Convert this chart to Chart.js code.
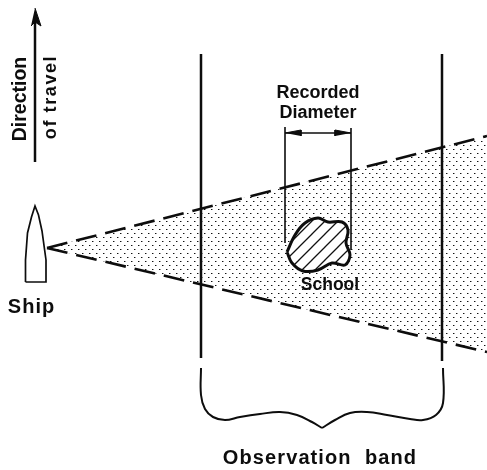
<!DOCTYPE html>
<html>
<head>
<meta charset="utf-8">
<style>html,body{margin:0;padding:0;background:#fff}canvas{display:block}</style>
<script src="https://cdn.jsdelivr.net/npm/chart.js@4"></script>
</head>
<body>
<canvas id="c" width="487" height="470"></canvas>
<script>
// Diagram geometry, in data units of the x (0-487) and y (0-470) scales
const wedgeArea = [[47,248],[487,136],[487,352]];
const wedgeTop = [[47,248],[487,136]];
const wedgeBottom = [[47,248],[487,352]];
const bandLeft = [[201,54],[201,358]];
const bandRight = [[442,54],[442,361]];
const braceLeft = [[201,368],[201,395],[205,409],[213,417],[225,420],[240,417],[260,414],[280,412],[297,415],[312,422],[322,428]];
const braceRight = [[322,428],[335,420],[350,413],[367,412],[387,415],[410,419],[423,420],[436,415],[443,403],[443,368]];
const arrowShaft = [[35,162],[35,20]];
const arrowHead = [[35,8],[41,26],[35,22],[31,26]];
const shipHull = [[25.5,282],[25.5,260],[27.5,233],[31.5,217],[35,206],[38.5,215],[42,231],[46,260],[46,282],[25.5,282]];
const diamLeft = [[285,127],[285,243]];
const diamRight = [[351,128],[351,250]];
const diamBar = [[285,133],[351,133]];
const diamHeadLeft = [[285,133],[301,130],[301,136]];
const diamHeadRight = [[351,133],[335,130],[335,136]];
const school = [[287,252],[295,235],[305,223],[318,218],[328,222],[342,222],[348,230],[346,243],[350,255],[345,265],[332,263],[318,270],[303,271],[292,263],[287,252]];

const labelTexts = ["Direction","of travel","Ship","Recorded","Diameter","School","Observation  band"];
const labelAnchors = [[21,99],[51,97],[31.5,307],[318,93],[318,113],[330,285],[320,458]];
const labelAngles = [-90,-90,0,0,0,0,0];
const labelSizes = [19.5,18,20,18,18,17.5,20];
const labelTracking = [0,1.6,1,0,0,0,1.1];

function tile(w, h, draw){
  const t=document.createElement('canvas');t.width=w;t.height=h;
  const g=t.getContext('2d');draw(g,w,h);
  return g.createPattern(t,'repeat');
}
const dots = tile(7,8,(g)=>{g.fillStyle='#fff';g.fillRect(0,0,7,8);
  g.fillStyle='#999';g.fillRect(2,1,1,1);g.fillRect(6,5,1,1);
  g.fillStyle='#111';g.fillRect(1,1,1,1);g.fillRect(5,5,1,1);});
const hatch = tile(13,13,(g,s)=>{g.fillStyle='#fff';g.fillRect(0,0,s,s);g.strokeStyle='#111';g.lineWidth=1.3;
  g.beginPath();g.moveTo(-2,s+2);g.lineTo(s+2,-2);g.moveTo(-2,2);g.lineTo(2,-2);g.moveTo(s-2,s+2);g.lineTo(s+2,s-2);g.stroke();});

const pts = a => a.map(p=>({x:p[0],y:p[1]}));
const ink = '#0d0d0d';
const line = (a,w,extra) => Object.assign({data:pts(a),showLine:true,borderColor:ink,borderWidth:w,pointRadius:0,fill:false,tension:0},extra||{});
const solid = a => line(a,1,{backgroundColor:ink,fill:'shape'});

const textPlugin = {
  id:'labels',
  afterDatasetsDraw(chart){
    const {ctx,scales:{x,y}}=chart;
    labelTexts.forEach((t,i)=>{
      ctx.save();
      ctx.translate(x.getPixelForValue(labelAnchors[i][0]),y.getPixelForValue(labelAnchors[i][1]));
      ctx.rotate(labelAngles[i]*Math.PI/180);
      ctx.font='bold '+labelSizes[i]+'px "Liberation Sans"';
      ctx.letterSpacing=labelTracking[i]+'px';
      ctx.fillStyle=ink;ctx.textAlign='center';ctx.textBaseline='middle';
      ctx.fillText(t,0,0);
      ctx.restore();
    });
  }
};

// Chart.js paints the first dataset last, so the list runs top layer first
new Chart(document.getElementById('c'),{
  type:'scatter',
  data:{datasets:[
    line(school,3,{backgroundColor:hatch,fill:'shape',tension:0.35}),
    solid(diamHeadRight),
    solid(diamHeadLeft),
    line(diamBar,1.6),
    line(diamRight,1.6),
    line(diamLeft,1.6),
    line(shipHull,1.7),
    solid(arrowHead),
    line(arrowShaft,2.5),
    line(braceRight,2,{tension:0.4}),
    line(braceLeft,2,{tension:0.4}),
    line(bandRight,2.5),
    line(bandLeft,2.5),
    line(wedgeBottom,2.6,{borderDash:[21,9]}),
    line(wedgeTop,2.6,{borderDash:[21,9]}),
    line(wedgeArea,0,{backgroundColor:dots,fill:'shape'}),
  ]},
  plugins:[textPlugin],
  options:{
    responsive:false,animation:false,devicePixelRatio:1,
    layout:{padding:0},
    plugins:{legend:{display:false},tooltip:{enabled:false},title:{display:false}},
    scales:{
      x:{type:'linear',min:0,max:487,display:false},
      y:{type:'linear',min:0,max:470,reverse:true,display:false}
    }
  }
});
</script>
</body>
</html>
